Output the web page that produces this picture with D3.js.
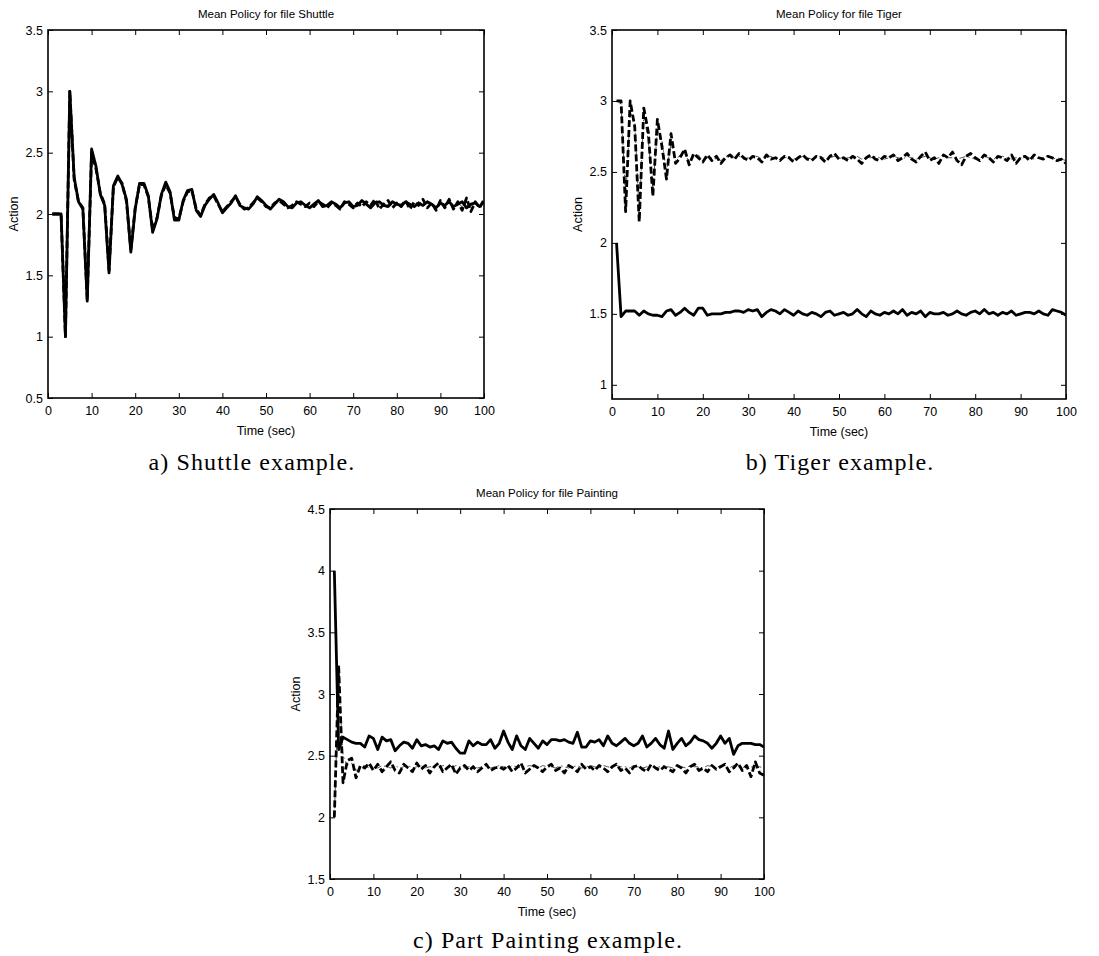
<!DOCTYPE html>
<html>
<head>
<meta charset="utf-8">
<script src="https://cdn.jsdelivr.net/npm/d3@7"></script>
<style>
  body { margin: 0; background: #fff; }
  svg { display: block; }
</style>
</head>
<body>
<svg id="svg" width="1099" height="956"></svg>
<script>
// time index of every sample (seconds)
const time = d3.range(1, 101)
const xTicks = [0, 10, 20, 30, 40, 50, 60, 70, 80, 90, 100]

// a) Shuttle
const shuttleSolid = [
  2, 2, 2, 1, 3, 2.3, 2.1, 2.04, 1.29, 2.53,
  2.39, 2.16, 2.07, 1.52, 2.23, 2.31, 2.24, 2.12, 1.69, 2.04,
  2.25, 2.25, 2.15, 1.85, 1.96, 2.16, 2.26, 2.18, 1.95, 1.95,
  2.11, 2.19, 2.2, 2.03, 1.98, 2.07, 2.12, 2.16, 2.09, 2.01,
  2.05, 2.09, 2.15, 2.07, 2.05, 2.04, 2.08, 2.14, 2.11, 2.07,
  2.04, 2.08, 2.12, 2.1, 2.06, 2.05, 2.09, 2.1, 2.07, 2.05,
  2.08, 2.11, 2.06, 2.07, 2.1, 2.08, 2.05, 2.09, 2.1, 2.06,
  2.07, 2.11, 2.08, 2.05, 2.09, 2.1, 2.07, 2.06, 2.1, 2.08,
  2.07, 2.1, 2.08, 2.06, 2.09, 2.07, 2.1, 2.08, 2.05, 2.09,
  2.07, 2.1, 2.06, 2.08, 2.1, 2.05, 2.08, 2.09, 2.06, 2.1]
const shuttleDashed = [
  2, 2, 2, 1, 3, 2.28, 2.1, 2.05, 1.3, 2.5,
  2.37, 2.17, 2.08, 1.54, 2.22, 2.3, 2.25, 2.1, 1.71, 2.05,
  2.24, 2.24, 2.14, 1.87, 1.97, 2.15, 2.24, 2.17, 1.97, 1.96,
  2.1, 2.18, 2.19, 2.04, 1.99, 2.08, 2.13, 2.15, 2.08, 2.02,
  2.06, 2.1, 2.14, 2.08, 2.04, 2.05, 2.09, 2.13, 2.1, 2.06,
  2.05, 2.09, 2.11, 2.08, 2.05, 2.07, 2.1, 2.08, 2.06, 2.09,
  2.06, 2.1, 2.08, 2.05, 2.09, 2.07, 2.04, 2.1, 2.08, 2.05,
  2.09, 2.06, 2.1, 2.07, 2.12, 2.04, 2.08, 2.11, 2.05, 2.09,
  2.06, 2.11, 2.04, 2.1, 2.07, 2.12, 2.05, 2.09, 2.03, 2.11,
  2.05, 2.12, 2.04, 2.1, 2.03, 2.13, 2.02, 2.1, 2.05, 2.12]
const shuttleDashDot = [
  2, 2, 2, 1, 3, 2.29, 2.11, 2.05, 1.3, 2.52,
  2.38, 2.16, 2.08, 1.53, 2.23, 2.3, 2.24, 2.11, 1.7, 2.05,
  2.24, 2.25, 2.15, 1.86, 1.96, 2.16, 2.25, 2.18, 1.96, 1.95,
  2.11, 2.18, 2.2, 2.04, 1.98, 2.07, 2.12, 2.15, 2.09, 2.02,
  2.05, 2.1, 2.14, 2.07, 2.05, 2.05, 2.08, 2.13, 2.1, 2.07,
  2.05, 2.08, 2.11, 2.09, 2.06, 2.06, 2.09, 2.09, 2.07, 2.06,
  2.08, 2.1, 2.07, 2.06, 2.1, 2.07, 2.06, 2.09, 2.09, 2.06,
  2.08, 2.1, 2.07, 2.06, 2.1, 2.08, 2.06, 2.08, 2.1, 2.07,
  2.08, 2.09, 2.06, 2.08, 2.1, 2.06, 2.09, 2.07, 2.06, 2.1,
  2.06, 2.09, 2.07, 2.09, 2.06, 2.1, 2.07, 2.08, 2.07, 2.09]

// b) Tiger
const tigerSolid = [
  2, 1.48, 1.52, 1.52, 1.52, 1.49, 1.52, 1.5, 1.49, 1.49,
  1.48, 1.52, 1.53, 1.49, 1.51, 1.54, 1.51, 1.49, 1.54, 1.54,
  1.49, 1.5, 1.5, 1.5, 1.51, 1.51, 1.52, 1.52, 1.51, 1.53,
  1.52, 1.53, 1.48, 1.51, 1.53, 1.52, 1.5, 1.53, 1.51, 1.49,
  1.52, 1.5, 1.49, 1.51, 1.5, 1.48, 1.51, 1.52, 1.49, 1.5,
  1.51, 1.49, 1.5, 1.53, 1.5, 1.48, 1.52, 1.5, 1.49, 1.51,
  1.5, 1.52, 1.5, 1.53, 1.49, 1.51, 1.5, 1.52, 1.48, 1.51,
  1.5, 1.5, 1.51, 1.49, 1.5, 1.52, 1.5, 1.49, 1.51, 1.52,
  1.5, 1.53, 1.5, 1.51, 1.49, 1.51, 1.5, 1.52, 1.49, 1.5,
  1.51, 1.51, 1.5, 1.52, 1.5, 1.49, 1.53, 1.52, 1.51, 1.49]
const tigerDashed = [
  3, 3, 2.22, 3, 2.82, 2.15, 2.95, 2.78, 2.33, 2.87,
  2.68, 2.45, 2.77, 2.56, 2.6, 2.66, 2.55, 2.63, 2.6, 2.57,
  2.62, 2.58, 2.61, 2.56, 2.6, 2.62, 2.59, 2.63, 2.6, 2.58,
  2.61, 2.6, 2.57, 2.62, 2.59, 2.6, 2.58, 2.61, 2.6, 2.57,
  2.6, 2.62, 2.59, 2.58, 2.61, 2.6, 2.57, 2.61, 2.63, 2.59,
  2.6, 2.58, 2.61, 2.59, 2.56, 2.6, 2.62, 2.59, 2.58, 2.61,
  2.6, 2.62, 2.58, 2.6, 2.63, 2.59, 2.57, 2.61, 2.64, 2.58,
  2.6, 2.56, 2.62, 2.6, 2.64, 2.58, 2.55, 2.61, 2.63, 2.6,
  2.58, 2.62, 2.6, 2.57, 2.61, 2.6, 2.58, 2.62, 2.56, 2.6,
  2.61, 2.58, 2.62, 2.6, 2.59, 2.61, 2.6, 2.58, 2.59, 2.56]
const tigerDashDot = [
  3, 2.98, 2.3, 2.92, 2.86, 2.2, 2.9, 2.72, 2.38, 2.8,
  2.72, 2.5, 2.7, 2.58, 2.62, 2.63, 2.57, 2.6, 2.62, 2.58,
  2.6, 2.6, 2.59, 2.58, 2.61, 2.6, 2.6, 2.61, 2.59, 2.6,
  2.6, 2.61, 2.59, 2.6, 2.61, 2.59, 2.6, 2.6, 2.61, 2.59,
  2.6, 2.61, 2.6, 2.59, 2.6, 2.61, 2.59, 2.6, 2.61, 2.6,
  2.59, 2.6, 2.6, 2.61, 2.59, 2.6, 2.6, 2.61, 2.6, 2.59,
  2.6, 2.61, 2.6, 2.59, 2.61, 2.6, 2.59, 2.6, 2.61, 2.6,
  2.59, 2.6, 2.61, 2.6, 2.6, 2.59, 2.6, 2.61, 2.6, 2.59,
  2.6, 2.61, 2.6, 2.59, 2.6, 2.61, 2.6, 2.59, 2.6, 2.6,
  2.61, 2.6, 2.59, 2.6, 2.6, 2.61, 2.59, 2.6, 2.59, 2.58]

// c) Part Painting
const paintingSolid = [
  4, 2.55, 2.65, 2.63, 2.61, 2.6, 2.6, 2.57, 2.66, 2.64,
  2.55, 2.65, 2.62, 2.63, 2.54, 2.58, 2.61, 2.6, 2.56, 2.63,
  2.58, 2.59, 2.57, 2.58, 2.55, 2.62, 2.6, 2.61, 2.56, 2.52,
  2.52, 2.62, 2.58, 2.61, 2.59, 2.59, 2.63, 2.56, 2.6, 2.7,
  2.61, 2.55, 2.66, 2.58, 2.55, 2.64, 2.6, 2.56, 2.62, 2.59,
  2.63, 2.63, 2.62, 2.63, 2.61, 2.6, 2.69, 2.57, 2.57, 2.62,
  2.61, 2.63, 2.58, 2.66, 2.6, 2.58, 2.61, 2.64, 2.6, 2.58,
  2.6, 2.66, 2.57, 2.6, 2.64, 2.59, 2.56, 2.7, 2.55, 2.6,
  2.64, 2.58, 2.61, 2.66, 2.63, 2.62, 2.6, 2.56, 2.6, 2.66,
  2.6, 2.64, 2.51, 2.58, 2.6, 2.6, 2.6, 2.59, 2.59, 2.57]
const paintingDashed = [
  2, 3.22, 2.28, 2.46, 2.48, 2.32, 2.42, 2.4, 2.44, 2.38,
  2.43, 2.37, 2.41, 2.45, 2.38, 2.36, 2.43, 2.4, 2.37, 2.44,
  2.39, 2.42, 2.36, 2.41, 2.44, 2.37, 2.4, 2.43, 2.35, 2.4,
  2.42, 2.38, 2.41, 2.37, 2.4, 2.43, 2.38, 2.4, 2.41, 2.39,
  2.42, 2.37, 2.4, 2.44, 2.36, 2.39, 2.42, 2.4, 2.37, 2.41,
  2.43, 2.38, 2.4, 2.36, 2.42, 2.4, 2.37, 2.43, 2.39, 2.41,
  2.38, 2.42, 2.4, 2.37, 2.41, 2.43, 2.38, 2.4, 2.36, 2.41,
  2.42, 2.39, 2.37, 2.43, 2.4, 2.38, 2.41, 2.39, 2.37, 2.42,
  2.4, 2.36, 2.41, 2.43, 2.38, 2.4, 2.37, 2.42, 2.39, 2.41,
  2.43, 2.37, 2.4, 2.44, 2.38, 2.42, 2.33, 2.45, 2.36, 2.34]
const paintingDashDot = [
  2, 3.1, 2.5, 2.42, 2.44, 2.38, 2.41, 2.42, 2.4, 2.41,
  2.4, 2.42, 2.41, 2.4, 2.42, 2.4, 2.41, 2.42, 2.4, 2.41,
  2.42, 2.4, 2.41, 2.41, 2.4, 2.42, 2.41, 2.4, 2.42, 2.41,
  2.4, 2.41, 2.42, 2.4, 2.41, 2.42, 2.4, 2.41, 2.42, 2.41,
  2.4, 2.42, 2.41, 2.4, 2.41, 2.42, 2.41, 2.4, 2.42, 2.41,
  2.41, 2.4, 2.42, 2.41, 2.4, 2.41, 2.42, 2.4, 2.41, 2.42,
  2.41, 2.4, 2.42, 2.41, 2.4, 2.42, 2.41, 2.41, 2.4, 2.42,
  2.41, 2.4, 2.41, 2.42, 2.4, 2.41, 2.42, 2.41, 2.4, 2.42,
  2.41, 2.4, 2.42, 2.41, 2.41, 2.4, 2.42, 2.41, 2.4, 2.42,
  2.41, 2.4, 2.42, 2.41, 2.4, 2.42, 2.41, 2.4, 2.41, 2.4]

const svg = d3.select("#svg")
const sans = "'Liberation Sans', Arial, Helvetica, sans-serif"
const serif = "'Liberation Serif', 'Times New Roman', serif"

const styles = [
  {width: 2.8, dash: null, color: "#000"},          // solid
  {width: 2.8, dash: "7,3", color: "#000"},         // dashed
  {width: 1, dash: "6,3,1.5,3", color: "#555"}      // dash-dot
]

const drawPanel = p => {
  const x = d3.scaleLinear().domain([0, 100]).range([p.left, p.right])
  const y = d3.scaleLinear().domain(p.yDomain).range([p.bottom, p.top])
  const g = svg.append("g").attr("font-family", sans)

  const clipId = "clip-" + p.id
  g.append("clipPath").attr("id", clipId).append("rect")
    .attr("x", p.left).attr("y", p.top)
    .attr("width", p.right - p.left).attr("height", p.bottom - p.top)

  const line = d3.line().x((d, i) => x(time[i])).y(d => y(d))
  // draw dash-dot first, then dashed, solid on top
  const order = [2, 1, 0]
  order.forEach(k => {
    const st = styles[k]
    g.append("path")
      .attr("clip-path", "url(#" + clipId + ")")
      .attr("d", line(p.series[k]))
      .attr("fill", "none")
      .attr("stroke", st.color)
      .attr("stroke-width", st.width)
      .attr("stroke-dasharray", st.dash)
      .attr("stroke-linejoin", "round")
  })

  const fmt = d3.format("~g")
  const styleAxis = sel => {
    sel.attr("font-family", sans).attr("font-size", 12.5)
    sel.select(".domain").remove()
    sel.selectAll(".tick line").attr("stroke", "#000").attr("stroke-width", 1)
    sel.selectAll(".tick text").attr("fill", "#000")
  }
  g.append("g").attr("transform", `translate(0,${p.bottom})`)
    .call(d3.axisBottom(x).tickValues(xTicks).tickFormat(fmt).tickSizeInner(-5).tickSizeOuter(0).tickPadding(8))
    .call(styleAxis)
  g.append("g").attr("transform", `translate(0,${p.top})`)
    .call(d3.axisTop(x).tickValues(xTicks).tickFormat("").tickSizeInner(-5).tickSizeOuter(0))
    .call(styleAxis)
  g.append("g").attr("transform", `translate(${p.left},0)`)
    .call(d3.axisLeft(y).tickValues(p.yTicks).tickFormat(fmt).tickSizeInner(-5).tickSizeOuter(0).tickPadding(5))
    .call(styleAxis)
  g.append("g").attr("transform", `translate(${p.right},0)`)
    .call(d3.axisRight(y).tickValues(p.yTicks).tickFormat("").tickSizeInner(-5).tickSizeOuter(0))
    .call(styleAxis)

  g.append("rect")
    .attr("x", p.left).attr("y", p.top)
    .attr("width", p.right - p.left).attr("height", p.bottom - p.top)
    .attr("fill", "none").attr("stroke", "#000").attr("stroke-width", 1.6)

  const cx = (p.left + p.right) / 2
  g.append("text").attr("x", cx).attr("y", p.top - 12)
    .attr("text-anchor", "middle").attr("font-size", 11.5).text(p.title)
  g.append("text").attr("x", cx).attr("y", p.bottom + 37)
    .attr("text-anchor", "middle").attr("font-size", 12.5).text("Time (sec)")
  g.append("text")
    .attr("transform", `translate(${p.left - 30},${(p.top + p.bottom) / 2}) rotate(-90)`)
    .attr("text-anchor", "middle").attr("font-size", 12.5).text("Action")

  svg.append("text").attr("x", p.capX).attr("y", p.capY)
    .attr("text-anchor", "middle").attr("font-family", serif)
    .attr("font-size", 24).attr("letter-spacing", 1.1).text(p.caption)
}

drawPanel({
  id: "a", left: 48, right: 484, top: 30, bottom: 398,
  yDomain: [0.5, 3.5], yTicks: [0.5, 1, 1.5, 2, 2.5, 3, 3.5],
  series: [shuttleSolid, shuttleDashed, shuttleDashDot],
  title: "Mean Policy for file Shuttle", caption: "a) Shuttle example.",
  capX: 252, capY: 470
})
drawPanel({
  id: "b", left: 612, right: 1066, top: 30, bottom: 399,
  yDomain: [0.9, 3.5], yTicks: [1, 1.5, 2, 2.5, 3, 3.5],
  series: [tigerSolid, tigerDashed, tigerDashDot],
  title: "Mean Policy for file Tiger", caption: "b) Tiger example.",
  capX: 840, capY: 470
})
drawPanel({
  id: "c", left: 330, right: 764, top: 509, bottom: 879,
  yDomain: [1.5, 4.5], yTicks: [1.5, 2, 2.5, 3, 3.5, 4, 4.5],
  series: [paintingSolid, paintingDashed, paintingDashDot],
  title: "Mean Policy for file Painting", caption: "c) Part Painting example.",
  capX: 548, capY: 948
})
</script>
</body>
</html>
